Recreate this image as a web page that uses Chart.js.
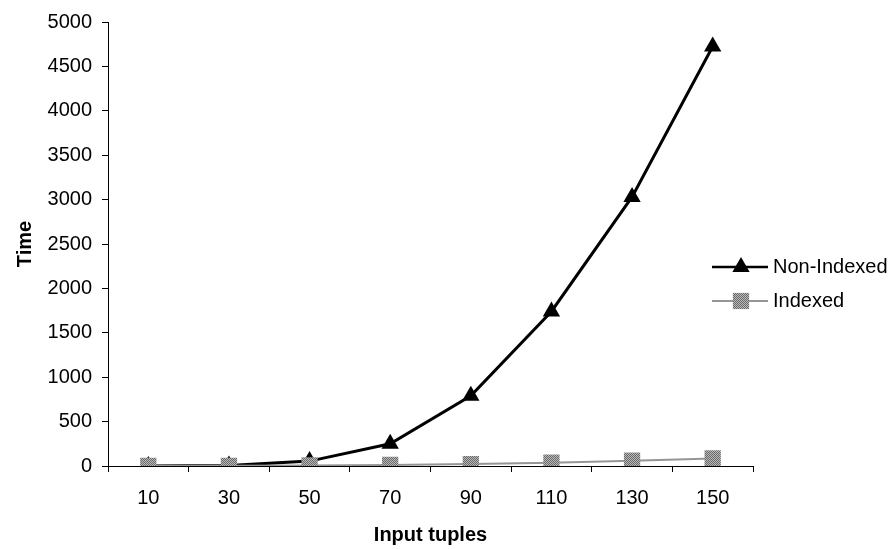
<!DOCTYPE html>
<html>
<head>
<meta charset="utf-8">
<script src="https://cdn.jsdelivr.net/npm/chart.js@4/dist/chart.umd.min.js"></script>
<style>
  html, body { margin: 0; padding: 0; background: #fff; }
  #wrap { width: 893px; height: 549px; }
</style>
</head>
<body>
<div id="wrap"><canvas id="chart"></canvas></div>
<script>
const categories = ["10", "30", "50", "70", "90", "110", "130", "150"];
const nonIndexed = [0, 5, 55, 250, 790, 1740, 3030, 4725];
const indexed = [0, 2, 6, 12, 22, 38, 60, 85];
const seriesNames = ["Non-Indexed", "Indexed"];

// gray dithered pattern like the scanned original
function grayPattern(a, b) {
  const c = document.createElement('canvas');
  c.width = 2; c.height = 2;
  const g = c.getContext('2d');
  g.fillStyle = a; g.fillRect(0, 0, 2, 2);
  g.fillStyle = b; g.fillRect(0, 0, 1, 1); g.fillRect(1, 1, 1, 1);
  return g.createPattern(c, 'repeat');
}
const ctx = document.getElementById('chart').getContext('2d');
const squareFill = grayPattern('#b8b8b8', '#6a6a6a');
const lineGray = '#959595';

const FONT = "'Liberation Sans', Arial, sans-serif";

// legend drawn at the right, overlapping the plot edge like the original
const sideLegend = {
  id: 'sideLegend',
  afterDraw(chart) {
    const c = chart.ctx;
    const rows = [
      { y: 267, color: '#000', width: 2.5, style: 'triangle', r: 10, fill: '#000' },
      { y: 301, color: lineGray, width: 2, style: 'rect', r: 11.5, fill: squareFill }
    ];
    c.save();
    rows.forEach((row, i) => {
      c.strokeStyle = row.color;
      c.lineWidth = row.width;
      c.beginPath();
      c.moveTo(712, row.y);
      c.lineTo(768, row.y);
      c.stroke();
      c.fillStyle = row.fill;
      c.strokeStyle = row.fill;
      c.lineWidth = 1;
      Chart.helpers.drawPoint(c, { pointStyle: row.style, radius: row.r, borderWidth: 0 }, 741, row.y);
      c.fillStyle = '#000';
      c.font = '20px ' + FONT;
      c.textBaseline = 'middle';
      c.textAlign = 'left';
      c.fillText(seriesNames[i], 773, row.y);
    });
    c.restore();
  }
};

new Chart(ctx, {
  type: 'line',
  data: {
    labels: categories,
    datasets: [
      {
        label: seriesNames[0],
        data: nonIndexed,
        borderColor: '#000',
        borderWidth: 3,
        pointStyle: 'triangle',
        pointRadius: 10,
        pointBackgroundColor: '#000',
        pointBorderColor: '#000',
        pointBorderWidth: 0,
        order: 2
      },
      {
        label: seriesNames[1],
        data: indexed,
        borderColor: lineGray,
        borderWidth: 2,
        pointStyle: 'rect',
        pointRadius: 11.5,
        pointBackgroundColor: squareFill,
        pointBorderWidth: 0,
        order: 1
      }
    ]
  },
  options: {
    responsive: true,
    maintainAspectRatio: false,
    animation: false,
    layout: { padding: { top: 17, right: 140, left: 0, bottom: 0 } },
    plugins: {
      legend: { display: false },
      tooltip: { enabled: false }
    },
    scales: {
      x: {
        offset: true,
        afterFit: s => { s.height = 83; },
        grid: {
          offset: true,
          drawOnChartArea: false,
          drawTicks: true,
          tickLength: 6,
          color: '#000'
        },
        border: { display: true, color: '#000', width: 1 },
        ticks: { color: '#000', font: { family: FONT, size: 20 }, padding: 14, maxRotation: 0 },
        title: {
          display: true,
          text: 'Input tuples',
          color: '#000',
          font: { family: FONT, size: 20, weight: 'bold' },
          padding: { top: 0, bottom: 2 }
        }
      },
      y: {
        min: 0,
        max: 5000,
        afterFit: s => { s.width = 108; },
        grid: {
          drawOnChartArea: false,
          drawTicks: true,
          tickLength: 6,
          color: '#000'
        },
        border: { display: true, color: '#000', width: 1 },
        ticks: {
          stepSize: 500,
          color: '#000',
          font: { family: FONT, size: 20 },
          padding: 10,
          callback: v => String(v)
        },
        title: {
          display: true,
          text: 'Time',
          color: '#000',
          font: { family: FONT, size: 20, weight: 'bold' },
          padding: { top: 13, bottom: 0 }
        }
      }
    }
  },
  plugins: [sideLegend]
});
</script>
</body>
</html>
